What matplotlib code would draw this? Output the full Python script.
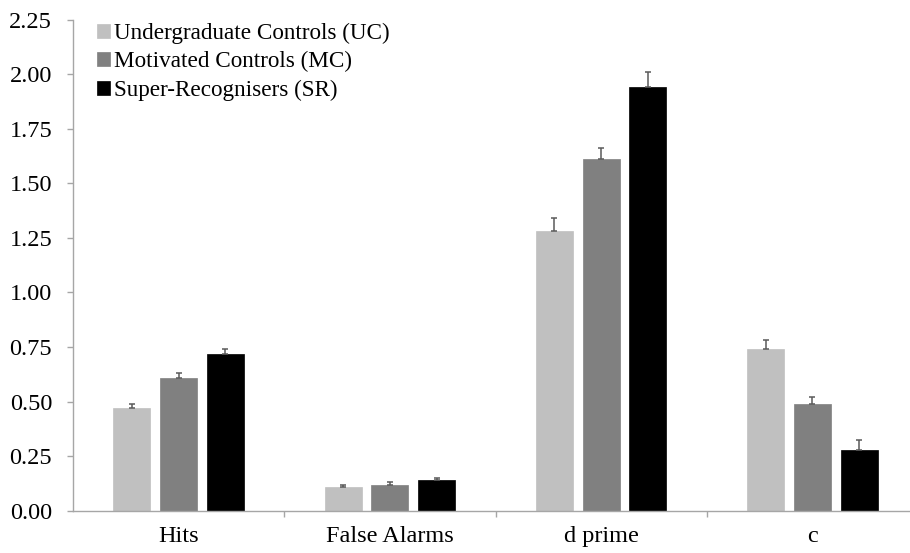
import matplotlib
matplotlib.use("Agg")
import matplotlib.pyplot as plt
import numpy as np

categories = ["Hits", "False Alarms", "d prime", "c"]
groups = ["Undergraduate Controls (UC)", "Motivated Controls (MC)", "Super-Recognisers (SR)"]
uc_vals = [0.47, 0.11, 1.28, 0.74]
mc_vals = [0.61, 0.12, 1.61, 0.49]
sr_vals = [0.72, 0.14, 1.94, 0.28]
uc_err = [0.02, 0.01, 0.06, 0.04]
mc_err = [0.02, 0.01, 0.05, 0.03]
sr_err = [0.02, 0.01, 0.07, 0.045]
colors = ["#C0C0C0", "#808080", "#000000"]
yticks = [0.00, 0.25, 0.50, 0.75, 1.00, 1.25, 1.50, 1.75, 2.00, 2.25]

plt.rcParams['font.family'] = ['Liberation Serif', 'DejaVu Serif']

W, H = 910, 553
fig = plt.figure(figsize=(W/100, H/100), dpi=100)
left, right, bottom, top = 73, 918, 510.7, 19.5
ax = fig.add_axes([left/W, (H-bottom)/H, (right-left)/W, (bottom-top)/H])

x = np.arange(len(categories))
width = 0.175
offset = 0.221
vals = [uc_vals, mc_vals, sr_vals]
errs = [uc_err, mc_err, sr_err]
for i, (v, e, c, g) in enumerate(zip(vals, errs, colors, groups)):
    pos = x + (i - 1) * offset
    ax.bar(pos, v, width, color=c, edgecolor=c, linewidth=0.5, label=g, zorder=2)
    ax.errorbar(pos, v, yerr=[np.zeros(len(e)), e], fmt='none', ecolor='#5a5a5a',
                elinewidth=1.1, capsize=2.0, capthick=1.1, zorder=3)

ax.set_xlim(-0.5, 3.5)
ax.set_ylim(0, 2.25)
ax.set_yticks(yticks)
ax.set_yticklabels([f"{t:.2f}" for t in yticks])
ax.set_xticks(x)
ax.set_xticklabels(categories)
ax.set_xticks([0.5, 1.5, 2.5, 3.5], minor=True)

for s in ['top', 'right']:
    ax.spines[s].set_visible(False)
for s in ['left', 'bottom']:
    ax.spines[s].set_color('#a6a6a6')
    ax.spines[s].set_linewidth(1.0)

ax.tick_params(axis='y', which='major', length=4.5, width=1.0, color='#a6a6a6',
               labelsize=17.5, pad=10.5, labelcolor='black')
ax.tick_params(axis='x', which='major', length=0, labelsize=17.5, pad=11, labelcolor='black')
ax.tick_params(axis='x', which='minor', length=4.5, width=1.0, color='#a6a6a6')

leg = ax.legend(loc='upper left', bbox_to_anchor=(0.018, 1.012), frameon=False,
                fontsize=16.7, handlelength=0.55, handleheight=0.55, handletextpad=0.17,
                labelspacing=0.31, borderaxespad=0)

fig.savefig("out.png", dpi=100)
